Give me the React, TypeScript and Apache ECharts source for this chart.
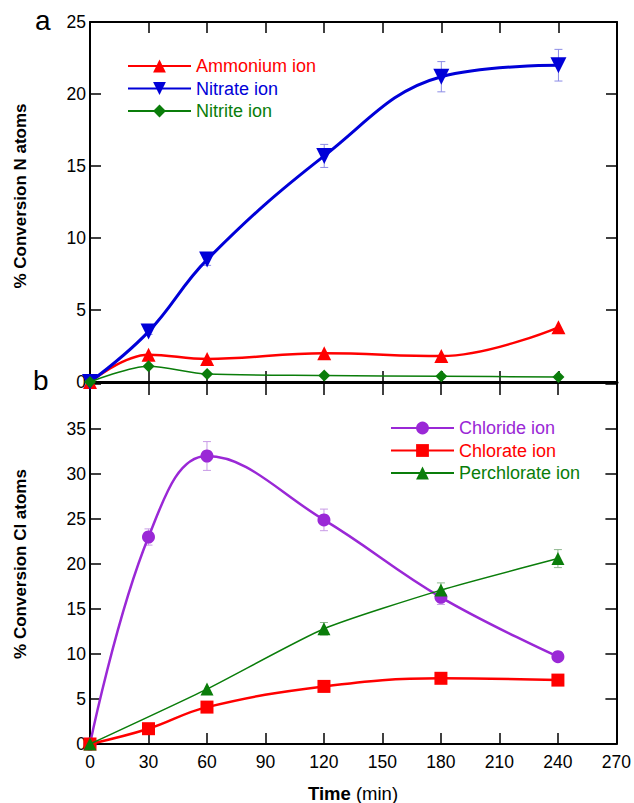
import React, { useEffect, useRef } from "react";
import * as echarts from "echarts";

// ---- data ----
const times = [0, 30, 60, 120, 180, 240];
const ammonium = [0, 1.9, 1.6, 2.0, 1.8, 3.8];
const nitrate = [0, 3.5, 8.5, 15.7, 21.2, 22.0];
const nitrite = [0, 1.1, 0.55, 0.45, 0.4, 0.35];
const nitrateErrTimes = [30, 60, 120, 180, 240];
const nitrateErr = [0.2, 0.4, 0.8, 1.05, 1.1];

const chloride = [0, 23.0, 32.0, 24.9, 16.3, 9.7];
const chlorate = [0, 1.7, 4.1, 6.4, 7.3, 7.1];
const perchlorateTimes = [0, 60, 120, 180, 240];
const perchlorate = [0, 6.1, 12.8, 17.1, 20.6];
const chlorideErrTimes = [30, 60, 120, 180];
const chlorideErr = [0.9, 1.6, 1.2, 0.8];
const perchlorateErrTimes = [120, 180, 240];
const perchlorateErr = [0.7, 0.8, 1.0];

const topTicks = [0, 5, 10, 15, 20, 25];
const bottomTicks = [0, 5, 10, 15, 20, 25, 30, 35];

const FONT = "Liberation Sans, Arial, Helvetica, sans-serif";
const RED = "#ff0000";
const BLUE = "#0000d8";
const GREEN = "#0a7d0a";
const PURPLE = "#9a28d6";

function pairs(xs: number[], ys: number[]) {
  return xs.map((x, i) => [x, ys[i]]);
}
function errData(xs: number[], ys: number[], xsAll: number[], e: number[]) {
  return xs.map((x, i) => {
    const v = ys[xsAll.indexOf(x)];
    return [x, v - e[i], v + e[i]];
  });
}

function errSeries(data: number[][], xi: number, yi: number, color: string) {
  return {
    type: "custom",
    xAxisIndex: xi,
    yAxisIndex: yi,
    z: 1,
    silent: true,
    data,
    encode: { x: 0, y: [1, 2] },
    renderItem: (params: any, api: any) => {
      const x = api.value(0);
      const p1 = api.coord([x, api.value(1)]);
      const p2 = api.coord([x, api.value(2)]);
      const w = 4;
      const st = { stroke: color, lineWidth: 1 };
      return {
        type: "group",
        children: [
          { type: "line", shape: { x1: p1[0], y1: p1[1], x2: p2[0], y2: p2[1] }, style: st },
          { type: "line", shape: { x1: p1[0] - w, y1: p1[1], x2: p1[0] + w, y2: p1[1] }, style: st },
          { type: "line", shape: { x1: p2[0] - w, y1: p2[1], x2: p2[0] + w, y2: p2[1] }, style: st },
        ],
      };
    },
  };
}

export default function App() {
  const ref = useRef<HTMLDivElement>(null);
  useEffect(() => {
    if (!ref.current) return;
    const chart = echarts.init(ref.current, null, { renderer: "svg" });
    const tick = { inside: true, length: 11, lineStyle: { color: "#000", width: 1.5 } };
    const xBase = {
      type: "value",
      min: 0,
      max: 270,
      interval: 30,
      splitLine: { show: false },
      axisTick: tick,
    };
    const grids = [
      { left: 90, right: 17, top: 22, height: 360 },
      { left: 90, right: 17, top: 384, bottom: 59 },
    ];
    const option: any = {
      animation: false,
      textStyle: { fontFamily: FONT },
      grid: grids,
      xAxis: [
        {
          ...xBase, gridIndex: 0, position: "bottom",
          axisLine: { show: true, onZero: false, lineStyle: { color: "#000", width: 3 } },
          axisLabel: { show: false },
        },
        {
          ...xBase, gridIndex: 0, position: "top",
          axisLine: { show: true, onZero: false, lineStyle: { color: "#000", width: 2 } },
          axisLabel: { show: false },
        },
        {
          ...xBase, gridIndex: 1, position: "bottom",
          axisLine: { show: true, onZero: false, lineStyle: { color: "#000", width: 2 } },
          axisLabel: { show: true, color: "#000", fontSize: 17.5, margin: 9, fontFamily: FONT },
        },
        {
          ...xBase, gridIndex: 1, position: "top",
          axisLine: { show: false, onZero: false },
          axisLabel: { show: false },
        },
      ],
      yAxis: [
        {
          type: "value", gridIndex: 0, min: 0, max: 25, interval: 5, position: "left",
          axisLine: { show: true, onZero: false, lineStyle: { color: "#000", width: 2 } },
          axisTick: tick, splitLine: { show: false },
          axisLabel: {
            color: "#000", fontSize: 17.5, margin: 4, fontFamily: FONT,
            formatter: (v: number) => (topTicks.includes(v) ? String(v) : ""),
          },
        },
        {
          type: "value", gridIndex: 0, min: 0, max: 25, interval: 5, position: "right",
          axisLine: { show: true, onZero: false, lineStyle: { color: "#000", width: 2 } },
          axisTick: tick, splitLine: { show: false }, axisLabel: { show: false },
        },
        {
          type: "value", gridIndex: 1, min: 0, max: 40, interval: 5, position: "left",
          axisLine: { show: true, onZero: false, lineStyle: { color: "#000", width: 2 } },
          axisTick: tick, splitLine: { show: false },
          axisLabel: {
            color: "#000", fontSize: 17.5, margin: 4, fontFamily: FONT,
            formatter: (v: number) => (bottomTicks.includes(v) ? String(v) : ""),
          },
        },
        {
          type: "value", gridIndex: 1, min: 0, max: 40, interval: 5, position: "right",
          axisLine: { show: true, onZero: false, lineStyle: { color: "#000", width: 2 } },
          axisTick: tick, splitLine: { show: false }, axisLabel: { show: false },
        },
      ],
      legend: [
        {
          orient: "vertical", left: 122, top: 52, itemWidth: 63, itemHeight: 16, itemGap: 4.5,
          textStyle: { fontSize: 18, fontFamily: FONT },
          data: [
            { name: "Ammonium ion", textStyle: { color: RED } },
            { name: "Nitrate ion", textStyle: { color: BLUE } },
            { name: "Nitrite ion", textStyle: { color: GREEN } },
          ],
          selectedMode: false,
        },
        {
          orient: "vertical", left: 385, top: 414, itemWidth: 63, itemHeight: 16, itemGap: 4.5,
          textStyle: { fontSize: 18, fontFamily: FONT },
          data: [
            { name: "Chloride ion", textStyle: { color: PURPLE } },
            { name: "Chlorate ion", textStyle: { color: RED } },
            { name: "Perchlorate ion", textStyle: { color: GREEN } },
          ],
          selectedMode: false,
        },
      ],
      series: [
        errSeries(errData(nitrateErrTimes, nitrate, times, nitrateErr), 0, 0, "#8c8ce6"),
        errSeries(errData(chlorideErrTimes, chloride, times, chlorideErr), 2, 2, "#c89be6"),
        errSeries(errData(perchlorateErrTimes, perchlorate, perchlorateTimes, perchlorateErr), 2, 2, "#8fb88f"),
        {
          name: "Ammonium ion", type: "line", xAxisIndex: 0, yAxisIndex: 0, smooth: 0.4,
          data: pairs(times, ammonium), symbol: "triangle", symbolSize: 14,
          color: RED, lineStyle: { width: 2.5, color: RED }, itemStyle: { color: RED }, z: 3,
        },
        {
          name: "Nitrate ion", type: "line", xAxisIndex: 0, yAxisIndex: 0, smooth: 0.4,
          data: pairs(times, nitrate), symbol: "triangle", symbolRotate: 180, symbolSize: 16,
          color: BLUE, lineStyle: { width: 3, color: BLUE }, itemStyle: { color: BLUE }, z: 4,
        },
        {
          name: "Nitrite ion", type: "line", xAxisIndex: 0, yAxisIndex: 0, smooth: 0.3,
          data: pairs(times, nitrite), symbol: "diamond", symbolSize: 12,
          color: GREEN, lineStyle: { width: 1.5, color: GREEN }, itemStyle: { color: GREEN }, z: 5,
        },
        {
          name: "Chloride ion", type: "line", xAxisIndex: 2, yAxisIndex: 2, smooth: 0.4,
          data: pairs(times, chloride), symbol: "circle", symbolSize: 13,
          color: PURPLE, lineStyle: { width: 2.5, color: PURPLE }, itemStyle: { color: PURPLE }, z: 3,
        },
        {
          name: "Chlorate ion", type: "line", xAxisIndex: 2, yAxisIndex: 2, smooth: 0.4,
          data: pairs(times, chlorate), symbol: "rect", symbolSize: 13,
          color: RED, lineStyle: { width: 2.5, color: RED }, itemStyle: { color: RED }, z: 4,
        },
        {
          name: "Perchlorate ion", type: "line", xAxisIndex: 2, yAxisIndex: 2, smooth: 0.2,
          data: pairs(perchlorateTimes, perchlorate), symbol: "triangle", symbolSize: 13,
          color: GREEN, lineStyle: { width: 1.5, color: GREEN }, itemStyle: { color: GREEN }, z: 5,
        },
      ],
      graphic: [
        { type: "text", left: 35, top: 6, style: { text: "a", font: `28px ${FONT}`, fill: "#000" } },
        { type: "text", left: 33, top: 366, style: { text: "b", font: `28px ${FONT}`, fill: "#000" } },
        {
          type: "text", x: 20, y: 196, rotation: Math.PI / 2,
          style: { text: "% Conversion N atoms", font: `bold 17px ${FONT}`, fill: "#000", align: "center", verticalAlign: "middle" },
        },
        {
          type: "text", x: 20, y: 564, rotation: Math.PI / 2,
          style: { text: "% Conversion Cl atoms", font: `bold 17px ${FONT}`, fill: "#000", align: "center", verticalAlign: "middle" },
        },
        {
          type: "text", x: 353, y: 793,
          style: {
            text: "{b|Time} (min)", align: "center", verticalAlign: "middle", fill: "#000",
            font: `18.5px ${FONT}`,
            rich: { b: { fontWeight: "bold", fontSize: 18.5, fontFamily: FONT, fill: "#000" } },
          },
        },
      ],
    };
    chart.setOption(option);
    return () => chart.dispose();
  }, []);
  return (
    <div
      ref={ref}
      style={{ position: "fixed", left: 0, top: 0, width: 634, height: 803, background: "#fff" }}
    />
  );
}
